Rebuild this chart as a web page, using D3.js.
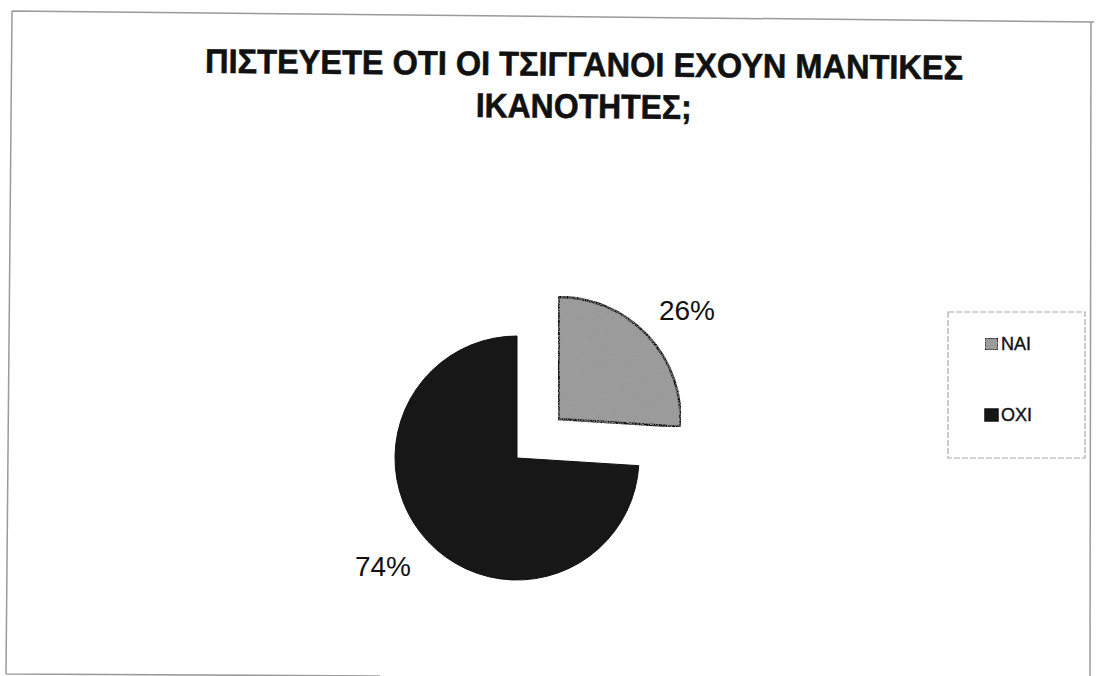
<!DOCTYPE html>
<html><head><meta charset="utf-8">
<script src="https://cdn.jsdelivr.net/npm/d3@7"></script>
<style>body{margin:0;background:#fff}svg{display:block}</style>
</head><body>
<svg id="c" width="1097" height="676"></svg>
<script>
const categories = ["ΝΑΙ", "ΟΧΙ"];
const values = [26, 74];
const labels = ["26%", "74%"];
const titleLines = ["ΠΙΣΤΕΥΕΤΕ ΟΤΙ ΟΙ ΤΣΙΓΓΑΝΟΙ ΕΧΟΥΝ ΜΑΝΤΙΚΕΣ", "ΙΚΑΝΟΤΗΤΕΣ;"];

const svg = d3.select("#c");
const defs = svg.append("defs");
const f1 = defs.append("filter").attr("id","speckGray").attr("x",0).attr("y",0).attr("width","100%").attr("height","100%");
f1.append("feTurbulence").attr("type","fractalNoise").attr("baseFrequency",0.9).attr("numOctaves",2).attr("seed",3).attr("result","n");
f1.append("feColorMatrix").attr("in","n").attr("type","matrix")
  .attr("values","0 0 0 0 0.35  0 0 0 0 0.35  0 0 0 0 0.35  1.2 1.2 1.2 0 -1.6").attr("result","dots");
f1.append("feComposite").attr("in","dots").attr("in2","SourceGraphic").attr("operator","in").attr("result","d2");
f1.append("feMerge").selectAll("feMergeNode").data(["SourceGraphic","d2"]).join("feMergeNode").attr("in",d=>d);

const fill = ["#9a9a9a", "#171717"];

// frame
svg.append("path").attr("d","M12,11 L1094,22 M12,11 L6,674 M1091,22 L1090,676 M6,674 L380,676")
  .attr("fill","none").attr("stroke","#9a9a9a").attr("stroke-width",1.5);

// title
const t = svg.append("text").attr("text-anchor","middle")
  .attr("font-family","'Liberation Sans',Arial,sans-serif")
  .attr("font-weight","bold").attr("font-size",34).attr("fill","#111")
  .attr("stroke","#111").attr("stroke-width",0.6)
  .attr("transform","rotate(0.5,584,76)");
const tl = [758, 216];
const ty = [76, 118];
titleLines.forEach((s,i)=>t.append("tspan").attr("x",584).attr("y",ty[i])
  .attr("textLength",tl[i]).attr("lengthAdjust","spacingAndGlyphs").text(s));

// pie
const cx = 517, cy = 458, r = 122;
const pie = d3.pie().sort(null).value(d=>d)(values);
const arc = d3.arc().innerRadius(0).outerRadius(r);
const explode = [57, 0];
const g = svg.append("g").attr("transform",`translate(${cx},${cy})`);
pie.forEach((p,i)=>{
  const mid = (p.startAngle+p.endAngle)/2;
  const dx = Math.sin(mid)*explode[i], dy = -Math.cos(mid)*explode[i];
  g.append("path").attr("d",arc(p)).attr("transform",`translate(${dx},${dy})`)
    .attr("fill",fill[i]).attr("stroke","#111").attr("stroke-width",i===0?2.5:1)
    .attr("filter", i===0?"url(#speckGray)":null);
});
// labels
const labelPos = [[687,320],[383,576]];
labels.forEach((s,i)=>{
  svg.append("text").attr("x",labelPos[i][0]).attr("y",labelPos[i][1]).attr("text-anchor","middle")
    .attr("font-family","'Liberation Sans',Arial,sans-serif").attr("font-size",28).attr("fill","#111").text(s);
});

// legend
svg.append("rect").attr("x",948).attr("y",312).attr("width",137).attr("height",146)
  .attr("fill","#fff").attr("stroke","#aaa").attr("stroke-width",1.2).attr("stroke-dasharray","6,2");
categories.forEach((c,i)=>{
  const y = 350 + i*71;
  svg.append("rect").attr("x",985).attr("y",y-12).attr("width",13).attr("height",12)
    .attr("fill",fill[i]).attr("stroke","#111").attr("stroke-width",1.5)
    .attr("filter", i===0?"url(#speckGray)":null);
  svg.append("text").attr("x",1001).attr("y",y).attr("font-family","'Liberation Sans',Arial,sans-serif")
    .attr("font-size",18).attr("fill","#111").attr("stroke","#111").attr("stroke-width",0.4).text(c);
});
</script>
</body></html>
